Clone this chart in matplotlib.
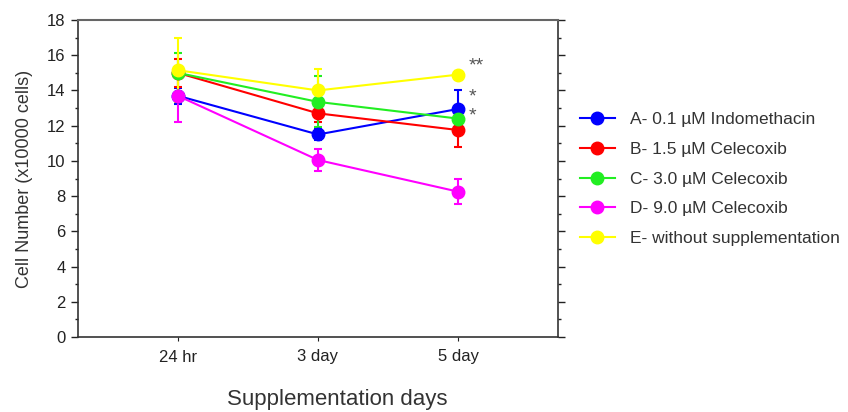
import numpy as np
import matplotlib.pyplot as plt
from matplotlib.ticker import MultipleLocator

plt.rcParams['font.family'] = ['Liberation Sans', 'DejaVu Sans']

days = ['24 hr', '3 day', '5 day']

labels = ['A- 0.1 \u00b5M Indomethacin',
          'B- 1.5 \u00b5M Celecoxib',
          'C- 3.0 \u00b5M Celecoxib',
          'D- 9.0 \u00b5M Celecoxib',
          'E- without supplementation']

# mean cell number (x10000 cells) per group
indomethacin = [13.7, 11.5, 12.95]
celecoxib_15 = [15.0, 12.7, 11.75]
celecoxib_30 = [15.0, 13.35, 12.4]
celecoxib_90 = [13.7, 10.05, 8.25]
no_supp = [15.15, 14.0, 14.9]

# standard deviations
indomethacin_sd = [0.45, 0.3, 1.05]
celecoxib_15_sd = [0.8, 0.5, 0.95]
celecoxib_30_sd = [1.1, 1.45, 0.6]
celecoxib_90_sd = [1.5, 0.65, 0.7]
no_supp_sd = [1.8, 1.2, 0.2]

colors = ['#0000ff', '#ff0000', '#22ee22', '#ff00ff', '#ffff00']

# significance marks at 5 day
stars = ['**', '*', '*']
star_y = [15.4, 13.65, 12.55]

fig = plt.figure(figsize=(8.48, 4.12), dpi=100)
ax = fig.add_axes([78 / 848, 1 - 337 / 412, 480 / 848, 317 / 412])

x = np.arange(1, len(days) + 1)
means = [indomethacin, celecoxib_15, celecoxib_30, celecoxib_90, no_supp]
sds = [indomethacin_sd, celecoxib_15_sd, celecoxib_30_sd, celecoxib_90_sd, no_supp_sd]

handles = []
for m, s, c in zip(means, sds, colors):
    eb = ax.errorbar(x, m, yerr=s, color=c, marker='o', markersize=9,
                     lw=1.5, elinewidth=1.5, capsize=3.2, capthick=1.5)
    handles.append(eb[0])

for t, y in zip(stars, star_y):
    ax.text(x[-1] + 0.07, y, t, color='#555555', fontsize=14,
            ha='left', va='center')

ax.set_xlim(0.29, 3.71)
ax.set_ylim(0, 18)
ax.set_xticks(x)
ax.set_xticklabels(days)
ax.yaxis.set_major_locator(MultipleLocator(2))
ax.yaxis.set_minor_locator(MultipleLocator(1))
ax.tick_params(axis='y', which='both', right=True, direction='out',
               labelsize=12, pad=4, width=1, colors='#222222')
ax.tick_params(axis='y', which='major', length=5)
ax.tick_params(axis='y', which='minor', length=2.5)
ax.tick_params(axis='x', length=3, labelsize=12, pad=6, colors='#222222')

for side in ['left', 'bottom', 'right']:
    ax.spines[side].set_color('#333333')
    ax.spines[side].set_linewidth(1.2)
ax.spines['top'].set_color('#666666')
ax.spines['top'].set_linewidth(1.5)

ax.set_ylabel('Cell Number (x10000 cells)', fontsize=13, color='#333333')
ax.yaxis.set_label_coords(-0.094, 0.5)
fig.text(337 / 848, 0.03, 'Supplementation days', fontsize=16,
         color='#333333', ha='center', va='center')

fig.legend(handles, labels, loc='upper left',
           bbox_to_anchor=(580 / 848, 1 - 112 / 412), frameon=False,
           fontsize=12.5, borderpad=0, borderaxespad=0, handlelength=2.0,
           handletextpad=0.86, labelspacing=0.84, labelcolor='#333333')

fig.savefig('out.png', dpi=100)
